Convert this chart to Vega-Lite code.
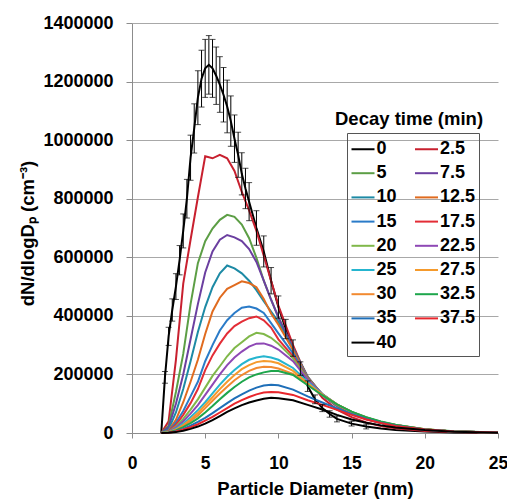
{
"$schema":"https://vega.github.io/schema/vega-lite/v6.json",
"width":366,"height":410,
"autosize":{"type":"none"},
"padding":{"left":132,"top":23,"right":9,"bottom":67},
"background":"white",
"config":{"view":{"stroke":null},"font":"Liberation Sans"},
"title":{"text":"Decay time (min)","anchor":"start","frame":"group","orient":"top","offset":0,"dx":203,"dy":129,"baseline":"alphabetic","font":"Liberation Sans","fontSize":18.5,"fontWeight":"bold","color":"black"},
"data":{"values":[
{"t":"0","x":2,"y":0},{"t":"0","x":2.25,"y":190000,"lo":170000,"hi":210000},{"t":"0","x":2.5,"y":330000,"lo":299000,"hi":361000},{"t":"0","x":2.75,"y":420000,"lo":382000,"hi":458000},{"t":"0","x":3,"y":500000,"lo":456000,"hi":544000},{"t":"0","x":3.25,"y":590000,"lo":540000,"hi":640000},{"t":"0","x":3.5,"y":690000,"lo":632000,"hi":748000},{"t":"0","x":3.75,"y":800000,"lo":734000,"hi":866000},{"t":"0","x":4,"y":940000,"lo":863000,"hi":1017000},{"t":"0","x":4.25,"y":1040000,"lo":956000,"hi":1124000},{"t":"0","x":4.5,"y":1145000,"lo":1053000,"hi":1237000},{"t":"0","x":4.75,"y":1210000,"lo":1113000,"hi":1307000},{"t":"0","x":5,"y":1245000,"lo":1146000,"hi":1344000},{"t":"0","x":5.25,"y":1257000,"lo":1157000,"hi":1357000},{"t":"0","x":5.5,"y":1245000,"lo":1146000,"hi":1344000},{"t":"0","x":5.75,"y":1220000,"lo":1122000,"hi":1318000},{"t":"0","x":6,"y":1190000,"lo":1095000,"hi":1285000},{"t":"0","x":6.25,"y":1155000,"lo":1062000,"hi":1248000},{"t":"0","x":6.5,"y":1115000,"lo":1025000,"hi":1205000},{"t":"0","x":6.75,"y":1065000,"lo":979000,"hi":1151000},{"t":"0","x":7,"y":1005000,"lo":924000,"hi":1086000},{"t":"0","x":7.25,"y":950000,"lo":873000,"hi":1027000},{"t":"0","x":7.5,"y":885000,"lo":813000,"hi":957000},{"t":"0","x":7.75,"y":835000,"lo":766000,"hi":904000},{"t":"0","x":8,"y":790000,"lo":725000,"hi":855000},{"t":"0","x":8.5,"y":700000,"lo":641000,"hi":759000},{"t":"0","x":9,"y":620000,"lo":567000,"hi":673000},{"t":"0","x":9.5,"y":520000,"lo":475000,"hi":565000},{"t":"0","x":10,"y":430000,"lo":392000,"hi":468000},{"t":"0","x":10.5,"y":355000,"lo":322000,"hi":388000},{"t":"0","x":11,"y":290000,"lo":262000,"hi":318000},{"t":"0","x":11.5,"y":220000,"lo":197000,"hi":243000},{"t":"0","x":12,"y":160000,"lo":142000,"hi":178000},{"t":"0","x":12.5,"y":115000,"lo":100000,"hi":130000},{"t":"0","x":13,"y":85000,"lo":73000,"hi":97000},{"t":"0","x":13.5,"y":65000,"lo":54000,"hi":76000},{"t":"0","x":14,"y":48000,"lo":38000,"hi":58000},{"t":"0","x":15,"y":32000,"lo":24000,"hi":40000},{"t":"0","x":16,"y":22000,"lo":14000,"hi":30000},{"t":"0","x":17,"y":15000},{"t":"0","x":18,"y":10000},{"t":"0","x":20,"y":5000},{"t":"0","x":22,"y":2000},{"t":"0","x":25,"y":1000},
{"t":"2.5","x":2,"y":0},{"t":"2.5","x":2.5,"y":40000},{"t":"2.5","x":3,"y":250000},{"t":"2.5","x":3.5,"y":510000},{"t":"2.5","x":4,"y":660000},{"t":"2.5","x":4.5,"y":805000},{"t":"2.5","x":5,"y":945000},{"t":"2.5","x":5.5,"y":938000},{"t":"2.5","x":6,"y":950000},{"t":"2.5","x":6.5,"y":938000},{"t":"2.5","x":7,"y":895000},{"t":"2.5","x":7.5,"y":823000},{"t":"2.5","x":8,"y":760000},{"t":"2.5","x":8.5,"y":690000},{"t":"2.5","x":9,"y":605000},{"t":"2.5","x":9.5,"y":520000},{"t":"2.5","x":10,"y":435000},{"t":"2.5","x":11,"y":300000},{"t":"2.5","x":12,"y":185000},{"t":"2.5","x":13,"y":120000},{"t":"2.5","x":14,"y":80000},{"t":"2.5","x":15,"y":54000},{"t":"2.5","x":16,"y":36000},{"t":"2.5","x":17,"y":24000},{"t":"2.5","x":18,"y":16000},{"t":"2.5","x":20,"y":7000},{"t":"2.5","x":22,"y":3000},{"t":"2.5","x":25,"y":1000},
{"t":"5","x":2,"y":0},{"t":"5","x":2.5,"y":25000},{"t":"5","x":3,"y":140000},{"t":"5","x":3.5,"y":270000},{"t":"5","x":4,"y":440000},{"t":"5","x":4.5,"y":580000},{"t":"5","x":5,"y":655000},{"t":"5","x":5.5,"y":698000},{"t":"5","x":6,"y":728000},{"t":"5","x":6.5,"y":745000},{"t":"5","x":7,"y":738000},{"t":"5","x":7.5,"y":712000},{"t":"5","x":8,"y":665000},{"t":"5","x":8.5,"y":598000},{"t":"5","x":9,"y":520000},{"t":"5","x":9.5,"y":455000},{"t":"5","x":10,"y":395000},{"t":"5","x":11,"y":290000},{"t":"5","x":12,"y":192000},{"t":"5","x":13,"y":130000},{"t":"5","x":14,"y":92000},{"t":"5","x":15,"y":66000},{"t":"5","x":16,"y":48000},{"t":"5","x":17,"y":34000},{"t":"5","x":18,"y":24000},{"t":"5","x":20,"y":11000},{"t":"5","x":22,"y":5000},{"t":"5","x":25,"y":2000},
{"t":"7.5","x":2,"y":0},{"t":"7.5","x":2.5,"y":20000},{"t":"7.5","x":3,"y":100000},{"t":"7.5","x":3.5,"y":200000},{"t":"7.5","x":4,"y":320000},{"t":"7.5","x":4.5,"y":440000},{"t":"7.5","x":5,"y":548000},{"t":"7.5","x":5.5,"y":620000},{"t":"7.5","x":6,"y":660000},{"t":"7.5","x":6.5,"y":676000},{"t":"7.5","x":7,"y":668000},{"t":"7.5","x":7.5,"y":655000},{"t":"7.5","x":8,"y":628000},{"t":"7.5","x":8.5,"y":584000},{"t":"7.5","x":9,"y":520000},{"t":"7.5","x":9.5,"y":455000},{"t":"7.5","x":10,"y":395000},{"t":"7.5","x":11,"y":290000},{"t":"7.5","x":12,"y":192000},{"t":"7.5","x":13,"y":130000},{"t":"7.5","x":14,"y":92000},{"t":"7.5","x":15,"y":66000},{"t":"7.5","x":16,"y":48000},{"t":"7.5","x":17,"y":34000},{"t":"7.5","x":18,"y":24000},{"t":"7.5","x":20,"y":11000},{"t":"7.5","x":22,"y":5000},{"t":"7.5","x":25,"y":2000},
{"t":"10","x":2,"y":0},{"t":"10","x":2.5,"y":12000},{"t":"10","x":3,"y":70000},{"t":"10","x":3.5,"y":150000},{"t":"10","x":4,"y":245000},{"t":"10","x":4.5,"y":345000},{"t":"10","x":5,"y":430000},{"t":"10","x":5.5,"y":498000},{"t":"10","x":6,"y":545000},{"t":"10","x":6.5,"y":572000},{"t":"10","x":7,"y":562000},{"t":"10","x":7.5,"y":545000},{"t":"10","x":8,"y":520000},{"t":"10","x":8.5,"y":488000},{"t":"10","x":9,"y":450000},{"t":"10","x":9.5,"y":415000},{"t":"10","x":10,"y":380000},{"t":"10","x":11,"y":285000},{"t":"10","x":12,"y":190000},{"t":"10","x":13,"y":130000},{"t":"10","x":14,"y":93000},{"t":"10","x":15,"y":67000},{"t":"10","x":16,"y":49000},{"t":"10","x":17,"y":35000},{"t":"10","x":18,"y":25000},{"t":"10","x":20,"y":11000},{"t":"10","x":22,"y":5000},{"t":"10","x":25,"y":2000},
{"t":"12.5","x":2,"y":0},{"t":"12.5","x":2.5,"y":8000},{"t":"12.5","x":3,"y":45000},{"t":"12.5","x":3.5,"y":105000},{"t":"12.5","x":4,"y":175000},{"t":"12.5","x":4.5,"y":250000},{"t":"12.5","x":5,"y":338000},{"t":"12.5","x":5.5,"y":415000},{"t":"12.5","x":6,"y":462000},{"t":"12.5","x":6.5,"y":492000},{"t":"12.5","x":7,"y":505000},{"t":"12.5","x":7.5,"y":518000},{"t":"12.5","x":8,"y":512000},{"t":"12.5","x":8.5,"y":498000},{"t":"12.5","x":9,"y":458000},{"t":"12.5","x":9.5,"y":408000},{"t":"12.5","x":10,"y":370000},{"t":"12.5","x":11,"y":283000},{"t":"12.5","x":12,"y":190000},{"t":"12.5","x":13,"y":131000},{"t":"12.5","x":14,"y":94000},{"t":"12.5","x":15,"y":68000},{"t":"12.5","x":16,"y":50000},{"t":"12.5","x":17,"y":36000},{"t":"12.5","x":18,"y":25000},{"t":"12.5","x":20,"y":12000},{"t":"12.5","x":22,"y":5000},{"t":"12.5","x":25,"y":2000},
{"t":"15","x":2,"y":0},{"t":"15","x":2.5,"y":6000},{"t":"15","x":3,"y":35000},{"t":"15","x":3.5,"y":75000},{"t":"15","x":4,"y":125000},{"t":"15","x":4.5,"y":175000},{"t":"15","x":5,"y":245000},{"t":"15","x":5.5,"y":300000},{"t":"15","x":6,"y":350000},{"t":"15","x":6.5,"y":385000},{"t":"15","x":7,"y":410000},{"t":"15","x":7.5,"y":428000},{"t":"15","x":8,"y":432000},{"t":"15","x":8.5,"y":425000},{"t":"15","x":9,"y":410000},{"t":"15","x":9.5,"y":375000},{"t":"15","x":10,"y":340000},{"t":"15","x":11,"y":272000},{"t":"15","x":12,"y":188000},{"t":"15","x":13,"y":132000},{"t":"15","x":14,"y":95000},{"t":"15","x":15,"y":69000},{"t":"15","x":16,"y":50000},{"t":"15","x":17,"y":36000},{"t":"15","x":18,"y":26000},{"t":"15","x":20,"y":12000},{"t":"15","x":22,"y":5000},{"t":"15","x":25,"y":2000},
{"t":"17.5","x":2,"y":0},{"t":"17.5","x":2.5,"y":5000},{"t":"17.5","x":3,"y":28000},{"t":"17.5","x":3.5,"y":62000},{"t":"17.5","x":4,"y":102000},{"t":"17.5","x":4.5,"y":150000},{"t":"17.5","x":5,"y":215000},{"t":"17.5","x":5.5,"y":265000},{"t":"17.5","x":6,"y":305000},{"t":"17.5","x":6.5,"y":340000},{"t":"17.5","x":7,"y":365000},{"t":"17.5","x":7.5,"y":380000},{"t":"17.5","x":8,"y":392000},{"t":"17.5","x":8.5,"y":398000},{"t":"17.5","x":9,"y":385000},{"t":"17.5","x":9.5,"y":360000},{"t":"17.5","x":10,"y":320000},{"t":"17.5","x":11,"y":262000},{"t":"17.5","x":12,"y":186000},{"t":"17.5","x":13,"y":132000},{"t":"17.5","x":14,"y":96000},{"t":"17.5","x":15,"y":70000},{"t":"17.5","x":16,"y":51000},{"t":"17.5","x":17,"y":37000},{"t":"17.5","x":18,"y":26000},{"t":"17.5","x":20,"y":12000},{"t":"17.5","x":22,"y":5000},{"t":"17.5","x":25,"y":2000},
{"t":"20","x":2,"y":0},{"t":"20","x":2.5,"y":4000},{"t":"20","x":3,"y":22000},{"t":"20","x":3.5,"y":48000},{"t":"20","x":4,"y":80000},{"t":"20","x":4.5,"y":115000},{"t":"20","x":5,"y":155000},{"t":"20","x":5.5,"y":195000},{"t":"20","x":6,"y":228000},{"t":"20","x":6.5,"y":262000},{"t":"20","x":7,"y":290000},{"t":"20","x":7.5,"y":310000},{"t":"20","x":8,"y":330000},{"t":"20","x":8.5,"y":342000},{"t":"20","x":9,"y":338000},{"t":"20","x":9.5,"y":325000},{"t":"20","x":10,"y":305000},{"t":"20","x":11,"y":255000},{"t":"20","x":12,"y":185000},{"t":"20","x":13,"y":133000},{"t":"20","x":14,"y":97000},{"t":"20","x":15,"y":71000},{"t":"20","x":16,"y":52000},{"t":"20","x":17,"y":37000},{"t":"20","x":18,"y":27000},{"t":"20","x":20,"y":12000},{"t":"20","x":22,"y":5000},{"t":"20","x":25,"y":2000},
{"t":"22.5","x":2,"y":0},{"t":"22.5","x":2.5,"y":3000},{"t":"22.5","x":3,"y":18000},{"t":"22.5","x":3.5,"y":40000},{"t":"22.5","x":4,"y":66000},{"t":"22.5","x":4.5,"y":95000},{"t":"22.5","x":5,"y":130000},{"t":"22.5","x":5.5,"y":165000},{"t":"22.5","x":6,"y":200000},{"t":"22.5","x":6.5,"y":232000},{"t":"22.5","x":7,"y":258000},{"t":"22.5","x":7.5,"y":278000},{"t":"22.5","x":8,"y":295000},{"t":"22.5","x":8.5,"y":305000},{"t":"22.5","x":9,"y":306000},{"t":"22.5","x":9.5,"y":298000},{"t":"22.5","x":10,"y":285000},{"t":"22.5","x":11,"y":245000},{"t":"22.5","x":12,"y":182000},{"t":"22.5","x":13,"y":133000},{"t":"22.5","x":14,"y":97000},{"t":"22.5","x":15,"y":71000},{"t":"22.5","x":16,"y":52000},{"t":"22.5","x":17,"y":38000},{"t":"22.5","x":18,"y":27000},{"t":"22.5","x":20,"y":12000},{"t":"22.5","x":22,"y":5000},{"t":"22.5","x":25,"y":2000},
{"t":"25","x":2,"y":0},{"t":"25","x":2.5,"y":3000},{"t":"25","x":3,"y":14000},{"t":"25","x":3.5,"y":32000},{"t":"25","x":4,"y":54000},{"t":"25","x":4.5,"y":78000},{"t":"25","x":5,"y":105000},{"t":"25","x":5.5,"y":135000},{"t":"25","x":6,"y":165000},{"t":"25","x":6.5,"y":192000},{"t":"25","x":7,"y":215000},{"t":"25","x":7.5,"y":235000},{"t":"25","x":8,"y":250000},{"t":"25","x":8.5,"y":258000},{"t":"25","x":9,"y":262000},{"t":"25","x":9.5,"y":258000},{"t":"25","x":10,"y":250000},{"t":"25","x":11,"y":222000},{"t":"25","x":12,"y":175000},{"t":"25","x":13,"y":132000},{"t":"25","x":14,"y":98000},{"t":"25","x":15,"y":72000},{"t":"25","x":16,"y":53000},{"t":"25","x":17,"y":38000},{"t":"25","x":18,"y":27000},{"t":"25","x":20,"y":12000},{"t":"25","x":22,"y":5000},{"t":"25","x":25,"y":2000},
{"t":"27.5","x":2,"y":0},{"t":"27.5","x":2.5,"y":2000},{"t":"27.5","x":3,"y":12000},{"t":"27.5","x":3.5,"y":27000},{"t":"27.5","x":4,"y":46000},{"t":"27.5","x":4.5,"y":68000},{"t":"27.5","x":5,"y":95000},{"t":"27.5","x":5.5,"y":122000},{"t":"27.5","x":6,"y":150000},{"t":"27.5","x":6.5,"y":175000},{"t":"27.5","x":7,"y":198000},{"t":"27.5","x":7.5,"y":218000},{"t":"27.5","x":8,"y":232000},{"t":"27.5","x":8.5,"y":242000},{"t":"27.5","x":9,"y":246000},{"t":"27.5","x":9.5,"y":244000},{"t":"27.5","x":10,"y":238000},{"t":"27.5","x":11,"y":212000},{"t":"27.5","x":12,"y":170000},{"t":"27.5","x":13,"y":131000},{"t":"27.5","x":14,"y":98000},{"t":"27.5","x":15,"y":72000},{"t":"27.5","x":16,"y":53000},{"t":"27.5","x":17,"y":38000},{"t":"27.5","x":18,"y":27000},{"t":"27.5","x":20,"y":13000},{"t":"27.5","x":22,"y":5000},{"t":"27.5","x":25,"y":2000},
{"t":"30","x":2,"y":0},{"t":"30","x":2.5,"y":2000},{"t":"30","x":3,"y":10000},{"t":"30","x":3.5,"y":24000},{"t":"30","x":4,"y":41000},{"t":"30","x":4.5,"y":60000},{"t":"30","x":5,"y":85000},{"t":"30","x":5.5,"y":110000},{"t":"30","x":6,"y":135000},{"t":"30","x":6.5,"y":158000},{"t":"30","x":7,"y":180000},{"t":"30","x":7.5,"y":198000},{"t":"30","x":8,"y":212000},{"t":"30","x":8.5,"y":222000},{"t":"30","x":9,"y":226000},{"t":"30","x":9.5,"y":225000},{"t":"30","x":10,"y":220000},{"t":"30","x":11,"y":202000},{"t":"30","x":12,"y":166000},{"t":"30","x":13,"y":130000},{"t":"30","x":14,"y":98000},{"t":"30","x":15,"y":72000},{"t":"30","x":16,"y":53000},{"t":"30","x":17,"y":38000},{"t":"30","x":18,"y":27000},{"t":"30","x":20,"y":13000},{"t":"30","x":22,"y":5000},{"t":"30","x":25,"y":2000},
{"t":"32.5","x":2,"y":0},{"t":"32.5","x":2.5,"y":2000},{"t":"32.5","x":3,"y":9000},{"t":"32.5","x":3.5,"y":20000},{"t":"32.5","x":4,"y":34000},{"t":"32.5","x":4.5,"y":50000},{"t":"32.5","x":5,"y":70000},{"t":"32.5","x":5.5,"y":92000},{"t":"32.5","x":6,"y":115000},{"t":"32.5","x":6.5,"y":137000},{"t":"32.5","x":7,"y":157000},{"t":"32.5","x":7.5,"y":175000},{"t":"32.5","x":8,"y":190000},{"t":"32.5","x":8.5,"y":200000},{"t":"32.5","x":9,"y":207000},{"t":"32.5","x":9.5,"y":212000},{"t":"32.5","x":10,"y":212000},{"t":"32.5","x":11,"y":198000},{"t":"32.5","x":12,"y":163000},{"t":"32.5","x":13,"y":129000},{"t":"32.5","x":14,"y":98000},{"t":"32.5","x":15,"y":73000},{"t":"32.5","x":16,"y":54000},{"t":"32.5","x":17,"y":39000},{"t":"32.5","x":18,"y":28000},{"t":"32.5","x":20,"y":13000},{"t":"32.5","x":22,"y":6000},{"t":"32.5","x":25,"y":2000},
{"t":"35","x":2,"y":0},{"t":"35","x":2.5,"y":1000},{"t":"35","x":3,"y":6000},{"t":"35","x":3.5,"y":14000},{"t":"35","x":4,"y":25000},{"t":"35","x":4.5,"y":38000},{"t":"35","x":5,"y":52000},{"t":"35","x":5.5,"y":68000},{"t":"35","x":6,"y":85000},{"t":"35","x":6.5,"y":102000},{"t":"35","x":7,"y":118000},{"t":"35","x":7.5,"y":132000},{"t":"35","x":8,"y":145000},{"t":"35","x":8.5,"y":155000},{"t":"35","x":9,"y":162000},{"t":"35","x":9.5,"y":165000},{"t":"35","x":10,"y":163000},{"t":"35","x":11,"y":148000},{"t":"35","x":12,"y":125000},{"t":"35","x":13,"y":104000},{"t":"35","x":14,"y":84000},{"t":"35","x":15,"y":65000},{"t":"35","x":16,"y":48000},{"t":"35","x":17,"y":35000},{"t":"35","x":18,"y":25000},{"t":"35","x":20,"y":12000},{"t":"35","x":22,"y":5000},{"t":"35","x":25,"y":2000},
{"t":"37.5","x":2,"y":0},{"t":"37.5","x":2.5,"y":1000},{"t":"37.5","x":3,"y":5000},{"t":"37.5","x":3.5,"y":12000},{"t":"37.5","x":4,"y":20000},{"t":"37.5","x":4.5,"y":30000},{"t":"37.5","x":5,"y":42000},{"t":"37.5","x":5.5,"y":55000},{"t":"37.5","x":6,"y":70000},{"t":"37.5","x":6.5,"y":85000},{"t":"37.5","x":7,"y":100000},{"t":"37.5","x":7.5,"y":112000},{"t":"37.5","x":8,"y":123000},{"t":"37.5","x":8.5,"y":132000},{"t":"37.5","x":9,"y":138000},{"t":"37.5","x":9.5,"y":140000},{"t":"37.5","x":10,"y":139000},{"t":"37.5","x":11,"y":130000},{"t":"37.5","x":12,"y":112000},{"t":"37.5","x":13,"y":96000},{"t":"37.5","x":14,"y":79000},{"t":"37.5","x":15,"y":62000},{"t":"37.5","x":16,"y":46000},{"t":"37.5","x":17,"y":34000},{"t":"37.5","x":18,"y":24000},{"t":"37.5","x":20,"y":12000},{"t":"37.5","x":22,"y":5000},{"t":"37.5","x":25,"y":2000},
{"t":"40","x":2,"y":0},{"t":"40","x":2.5,"y":1000},{"t":"40","x":3,"y":3000},{"t":"40","x":3.5,"y":8000},{"t":"40","x":4,"y":14000},{"t":"40","x":4.5,"y":22000},{"t":"40","x":5,"y":32000},{"t":"40","x":5.5,"y":44000},{"t":"40","x":6,"y":58000},{"t":"40","x":6.5,"y":72000},{"t":"40","x":7,"y":84000},{"t":"40","x":7.5,"y":95000},{"t":"40","x":8,"y":104000},{"t":"40","x":8.5,"y":111000},{"t":"40","x":9,"y":117000},{"t":"40","x":9.5,"y":120000},{"t":"40","x":10,"y":119000},{"t":"40","x":11,"y":112000},{"t":"40","x":12,"y":96000},{"t":"40","x":13,"y":80000},{"t":"40","x":14,"y":62000},{"t":"40","x":15,"y":46000},{"t":"40","x":16,"y":35000},{"t":"40","x":17,"y":26000},{"t":"40","x":18,"y":19000},{"t":"40","x":20,"y":10000},{"t":"40","x":22,"y":4000},{"t":"40","x":25,"y":1000}
]},
"layer":[
{"mark":{"type":"line","strokeWidth":2},
 "encoding":{
  "x":{"field":"x","type":"quantitative","title":"Particle Diameter (nm)","scale":{"domain":[0,25],"nice":false},
       "axis":{"values":[0,5,10,15,20,25],"grid":false,"domainColor":"#8c8c8c","tickColor":"#8c8c8c","tickSize":5,"labelPadding":16,"labelFont":"Liberation Sans","labelFontSize":17.5,"labelFontWeight":"bold","labelColor":"black","labelFlush":false,"titleFont":"Liberation Sans","titleFontSize":18.5,"titleFontWeight":"bold","titleColor":"black","titlePadding":8}},
  "y":{"field":"y","type":"quantitative","title":"dN/dlogDₚ (cm⁻³)","scale":{"domain":[0,1400000],"nice":false},
       "axis":{"values":[0,200000,400000,600000,800000,1000000,1200000,1400000],"format":"d","grid":true,"gridColor":"#a8a8a8","domainColor":"#8c8c8c","tickColor":"#8c8c8c","tickSize":6,"labelPadding":13,"labelFont":"Liberation Sans","labelFontSize":18,"labelFontWeight":"bold","labelColor":"black","titleFont":"Liberation Sans","titleFontSize":18.5,"titleFontWeight":"bold","titleColor":"black","titleX":-95,"titleY":210}},
  "color":{"field":"t","type":"nominal",
       "scale":{"domain":["0","2.5","5","7.5","10","12.5","15","17.5","20","22.5","25","27.5","30","32.5","35","37.5","40"],
                "range":["#000000","#c8202f","#5c9e45","#6b3fa0","#1d8aa5","#e06b1f","#2a7bc8","#e32d36","#80b84a","#8e48b5","#25b5cf","#f59a2c","#f28a30","#1ea64c","#1f6fb8","#e8262c","#000000"]},
       "legend":{"orient":"none","legendX":215,"legendY":110,"direction":"horizontal","columns":2,"title":null,"strokeColor":"#555555","padding":3.5,"labelFont":"Liberation Sans","labelFontSize":18,"labelFontWeight":"bold","labelColor":"black","labelOffset":1,"symbolType":"stroke","symbolSize":529,"symbolStrokeWidth":2,"rowPadding":2.2,"columnPadding":13.5,"labelExpr":"datum.label + '   '"}},
  "strokeWidth":{"condition":{"test":"datum.t === '0'","value":2.6},"value":2}
 }},
{"transform":[{"filter":"isValid(datum.lo)"}],
 "mark":{"type":"errorbar","ticks":{"size":6,"color":"black","thickness":1},"rule":{"color":"black","strokeWidth":1},"color":"black"},
 "encoding":{
  "x":{"field":"x","type":"quantitative","title":"Particle Diameter (nm)"},
  "y":{"field":"lo","type":"quantitative","title":"dN/dlogDₚ (cm⁻³)"},
  "y2":{"field":"hi"}
 }}
]
}
